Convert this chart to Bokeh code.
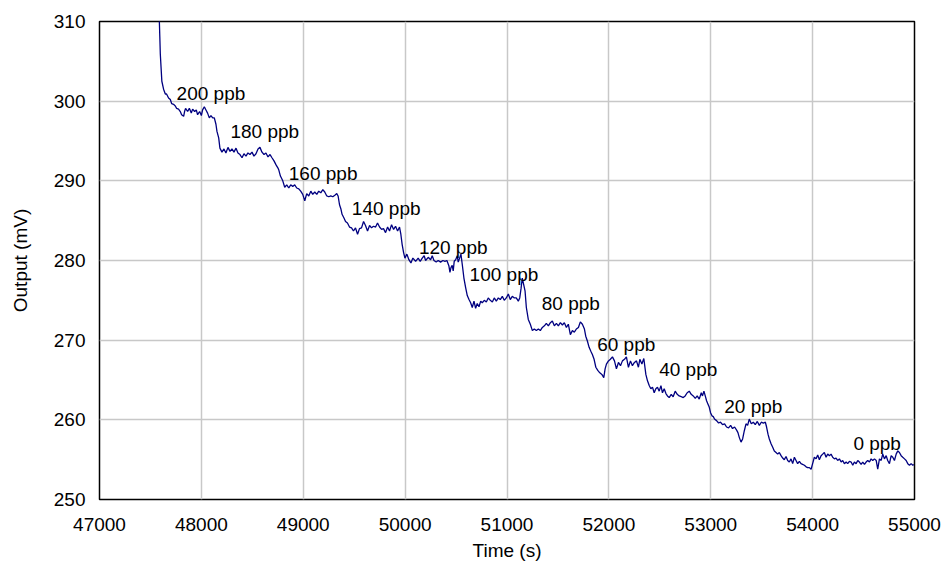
from bokeh.plotting import figure
from bokeh.models import ColumnDataSource, FixedTicker, Range1d
from bokeh.core.properties import value
from bokeh.embed import file_html
from bokeh.resources import INLINE

# ---- data (time in s, output in mV), per concentration step ----
t_200 = [47583, 47592, 47597, 47612, 47629, 47646, 47658, 47678, 47695, 47708, 47727, 47744, 47757,
         47776, 47793, 47806, 47826, 47835, 47845, 47865, 47882, 47901, 47914, 47934, 47950, 47963,
         47983, 48000, 48012, 48029, 48045, 48061, 48078, 48094, 48111, 48127, 48143]
v_200 = [312.0, 308.1, 305.9, 302.5, 301.5, 300.9, 300.9, 300.4, 300.2, 299.7, 299.6, 299.4, 299.1,
         299.0, 298.7, 298.3, 298.1, 298.7, 299.1, 298.7, 299.1, 298.5, 299.0, 298.7, 298.9, 298.3,
         298.7, 298.2, 298.9, 299.3, 298.9, 298.5, 297.9, 298.2, 297.9, 297.9, 297.1]

t_180 = [48153, 48170, 48182, 48202, 48222, 48241, 48261, 48281, 48300, 48320, 48340, 48359, 48379,
         48399, 48418, 48438, 48457, 48477, 48497, 48516, 48536, 48556, 48575, 48595, 48615, 48634,
         48654, 48674, 48693, 48713, 48733, 48752]
v_180 = [296.2, 295.4, 294.1, 293.6, 294.0, 293.5, 294.2, 293.7, 294.0, 293.6, 294.1, 293.5, 293.3,
         292.9, 293.4, 293.1, 293.5, 293.3, 293.6, 293.1, 293.4, 294.0, 294.2, 293.6, 293.3, 293.5,
         293.0, 293.3, 292.9, 292.5, 292.0, 291.6]

t_160 = [48759, 48776, 48799, 48818, 48838, 48858, 48877, 48897, 48916, 48936, 48956, 48975, 48995,
         49015, 49034, 49054, 49074, 49093, 49113, 49133, 49152, 49172, 49192, 49211, 49231, 49251,
         49270, 49290, 49310, 49329, 49342]
v_160 = [291.4, 290.6, 290.0, 289.2, 289.5, 289.1, 289.5, 289.3, 289.5, 289.1, 289.0, 288.7, 288.3,
         287.5, 288.4, 288.1, 288.7, 288.3, 288.6, 288.3, 288.7, 288.5, 288.9, 288.6, 288.1, 288.0,
         288.1, 288.0, 288.2, 288.4, 288.1]

t_140 = [49356, 49369, 49381, 49401, 49415, 49434, 49454, 49474, 49493, 49513, 49533, 49552, 49572,
         49592, 49611, 49631, 49651, 49670, 49690, 49710, 49729, 49749, 49769, 49788, 49808, 49828,
         49847, 49867, 49887, 49906, 49926, 49945]
v_140 = [287.0, 286.5, 285.8, 285.3, 284.9, 284.7, 284.2, 284.1, 283.7, 284.1, 283.3, 284.0, 284.1,
         284.9, 284.4, 283.7, 284.4, 284.1, 284.3, 284.2, 284.7, 284.2, 283.9, 284.0, 283.5, 284.2,
         283.7, 284.5, 283.9, 284.3, 283.7, 284.2]

t_120 = [49958, 49971, 49985, 49998, 50017, 50037, 50057, 50076, 50103, 50128, 50148, 50168, 50187,
         50201, 50227, 50250, 50266, 50283, 50305, 50325, 50348, 50371, 50391, 50410, 50430, 50440,
         50450, 50462, 50472, 50482, 50496, 50512, 50521, 50535, 50548]
v_120 = [283.3, 282.0, 281.0, 280.3, 280.8, 280.1, 279.7, 280.3, 279.9, 280.3, 279.9, 280.3, 280.6,
         280.0, 280.4, 280.1, 280.6, 280.0, 279.8, 280.0, 279.8, 280.0, 279.9, 280.0, 279.3, 278.5,
         279.1, 279.4, 278.7, 279.9, 280.1, 280.6, 279.8, 280.3, 280.8]

t_100 = [50561, 50577, 50594, 50610, 50627, 50643, 50659, 50676, 50692, 50708, 50725, 50742, 50757,
         50777, 50797, 50816, 50836, 50856, 50875, 50895, 50915, 50934, 50954, 50973, 50993, 51013,
         51032, 51052, 51072, 51091, 51111, 51125, 51138, 51150, 51177]
v_100 = [279.5, 277.8, 276.6, 275.6, 275.1, 274.7, 274.1, 274.9, 274.0, 274.6, 274.2, 274.9, 274.7,
         275.0, 274.8, 275.3, 275.0, 274.8, 275.3, 274.9, 275.3, 275.1, 275.5, 275.0, 275.3, 275.8,
         275.1, 275.5, 275.3, 275.3, 274.9, 275.3, 276.5, 277.8, 276.2]

t_80 = [51190, 51209, 51229, 51249, 51268, 51288, 51308, 51327, 51347, 51367, 51386, 51406, 51426,
        51445, 51465, 51485, 51504, 51524, 51544, 51563, 51583, 51602, 51622, 51642, 51661, 51681,
        51701, 51720, 51740, 51760]
v_80 = [274.1, 272.6, 272.0, 271.2, 271.4, 271.2, 271.4, 271.2, 271.6, 271.8, 272.1, 271.8, 272.2,
        272.4, 271.8, 272.1, 271.8, 272.2, 271.9, 272.2, 271.6, 272.0, 270.7, 271.2, 271.0, 271.4,
        271.6, 272.3, 272.0, 271.4]

t_60 = [51773, 51789, 51806, 51823, 51838, 51855, 51872, 51891, 51911, 51931, 51950, 51963, 51976,
        51996, 52015, 52035, 52055, 52074, 52094, 52114, 52133, 52153, 52172, 52192, 52212, 52231,
        52251, 52271, 52290, 52304, 52324, 52343]
v_60 = [270.5, 269.9, 269.1, 268.6, 268.2, 267.6, 266.6, 266.2, 265.9, 265.7, 265.3, 266.4, 267.0,
        267.4, 267.6, 267.9, 267.4, 266.4, 267.2, 266.8, 267.4, 267.6, 267.9, 266.6, 267.4, 266.8,
        267.2, 267.4, 266.6, 267.6, 267.0, 267.7]

t_40 = [52363, 52379, 52396, 52412, 52428, 52445, 52461, 52477, 52494, 52511, 52526, 52543, 52560,
        52575, 52592, 52612, 52631, 52651, 52671, 52690, 52710, 52730, 52749, 52769, 52789, 52808,
        52828, 52848, 52867, 52887, 52907, 52919, 52933, 52946]
v_40 = [265.7, 264.9, 264.3, 263.9, 264.1, 263.4, 263.9, 264.1, 263.6, 264.3, 263.4, 263.9, 263.3,
        263.0, 262.8, 263.2, 262.9, 263.6, 263.2, 263.0, 262.9, 262.8, 263.0, 263.4, 263.6, 263.2,
        263.0, 262.7, 263.0, 262.6, 263.4, 263.0, 263.6, 263.0]

t_20 = [52959, 52972, 52985, 52998, 53012, 53025, 53037, 53057, 53077, 53096, 53116, 53136, 53155,
        53175, 53195, 53214, 53234, 53254, 53267, 53280, 53297, 53313, 53329, 53346, 53362, 53378,
        53398, 53418, 53437, 53457, 53477, 53496, 53516, 53536, 53548, 53562]
v_20 = [262.4, 262.0, 261.6, 260.9, 260.5, 260.4, 260.1, 259.9, 259.6, 259.7, 259.4, 259.5, 259.1,
        259.0, 259.3, 258.9, 259.1, 258.7, 258.4, 257.8, 257.2, 257.6, 258.6, 259.5, 259.3, 260.1,
        259.5, 259.7, 259.4, 259.8, 259.3, 259.7, 259.6, 259.7, 259.1, 258.2]

t_0 = [53575, 53592, 53607, 53624, 53641, 53657, 53673, 53690, 53706, 53722,
       53739, 53755, 53771, 53788, 53804, 53821, 53837, 53853, 53870, 53886,
       53902, 53919, 53936, 53951, 53968, 53985, 54000, 54017, 54034, 54050,
       54066, 54083, 54099, 54115, 54132, 54148, 54165, 54181, 54197, 54214,
       54230, 54246, 54263, 54280, 54295, 54312, 54329, 54344, 54361, 54378,
       54394, 54410, 54427, 54443, 54459, 54476, 54492, 54509, 54525, 54541,
       54558, 54574, 54590, 54607, 54624, 54639, 54656, 54673, 54688, 54705,
       54722, 54737, 54754, 54771, 54787, 54803, 54820, 54836, 54852, 54869,
       54885, 54902, 54918, 54934, 54951, 54967, 54983, 54993]
v_0 = [257.6, 257.0, 256.6, 256.1, 255.9, 255.7, 255.9, 255.5, 255.2, 255.0,
       255.4, 254.9, 254.7, 255.1, 254.5, 255.3, 254.9, 254.5, 254.8, 254.5,
       254.4, 254.3, 254.1, 254.0, 254.0, 253.8, 254.5, 255.3, 255.1, 255.6,
       255.0, 255.5, 255.7, 255.9, 255.3, 255.7, 255.5, 255.7, 255.3, 255.1,
       255.2, 254.9, 255.1, 254.7, 254.9, 254.5, 254.7, 254.5, 254.8, 254.7,
       254.3, 254.7, 254.5, 254.9, 254.7, 254.4, 254.7, 254.4, 254.7, 254.9,
       254.7, 255.1, 254.9, 255.1, 254.9, 253.8, 255.1, 254.9, 255.7, 255.1,
       255.5, 254.9, 254.5, 255.5, 255.3, 254.9, 255.7, 256.1, 255.9, 255.5,
       255.3, 255.1, 254.9, 254.5, 254.3, 254.5, 254.3, 254.4]

# concentration annotations (left edge x, vertical centre y)
label_text = ["200 ppb", "180 ppb", "160 ppb", "140 ppb", "120 ppb", "100 ppb",
              "80 ppb", "60 ppb", "40 ppb", "20 ppb", "0 ppb"]
label_x = [47757, 48285, 48858, 49477, 50135, 50633, 51341, 51885, 52494, 53133, 54400]
label_y = [300.9, 296.2, 290.9, 286.5, 281.6, 278.2, 274.6, 269.4, 266.3, 261.7, 257.0]

x_ticks = [47000, 48000, 49000, 50000, 51000, 52000, 53000, 54000, 55000]
y_ticks = [250, 260, 270, 280, 290, 300, 310]

time_s = t_200 + t_180 + t_160 + t_140 + t_120 + t_100 + t_80 + t_60 + t_40 + t_20 + t_0
output_mv = v_200 + v_180 + v_160 + v_140 + v_120 + v_100 + v_80 + v_60 + v_40 + v_20 + v_0

FONT = "Liberation Sans"

p = figure(output_backend="svg", toolbar_location=None,
           frame_width=815, frame_height=478,
           min_border_left=99, min_border_top=21, min_border_right=27, min_border_bottom=60,
           x_range=Range1d(47000, 55000), y_range=Range1d(250, 310))

p.background_fill_color = "white"
p.border_fill_color = "white"
p.outline_line_color = "black"
p.outline_line_width = 1.5
p.outline_line_alpha = 1.0

p.line(time_s, output_mv, line_color="#000080", line_width=1.3)

src = ColumnDataSource(dict(x=label_x, y=label_y, text=label_text))
p.text(x="x", y="y", text="text", source=src, text_font=value(FONT),
       text_font_size="19px", text_color="black", text_align="left", text_baseline="middle")

for ax, ticks in ((p.xaxis[0], x_ticks), (p.yaxis[0], y_ticks)):
    ax.ticker = FixedTicker(ticks=ticks)
    ax.axis_line_color = None
    ax.major_tick_line_color = None
    ax.minor_tick_line_color = None
    ax.major_tick_in = 0
    ax.major_tick_out = 0
    ax.minor_tick_out = 0
    ax.major_label_text_font = FONT
    ax.major_label_text_font_size = "19px"
    ax.major_label_text_color = "black"
    ax.axis_label_text_font = FONT
    ax.axis_label_text_font_size = "19px"
    ax.axis_label_text_font_style = "normal"
    ax.axis_label_text_color = "black"

p.xaxis.axis_label = "Time (s)"
p.yaxis.axis_label = "Output (mV)"
p.xaxis.major_label_standoff = 18
p.yaxis.major_label_standoff = 14
p.xaxis.axis_label_standoff = 6
p.yaxis.axis_label_standoff = 20

p.xgrid.ticker = FixedTicker(ticks=x_ticks)
p.ygrid.ticker = FixedTicker(ticks=y_ticks)
p.grid.grid_line_color = "#c8c8c8"
p.grid.grid_line_width = 1.5

open("out.html", "w").write(file_html(p, INLINE))
